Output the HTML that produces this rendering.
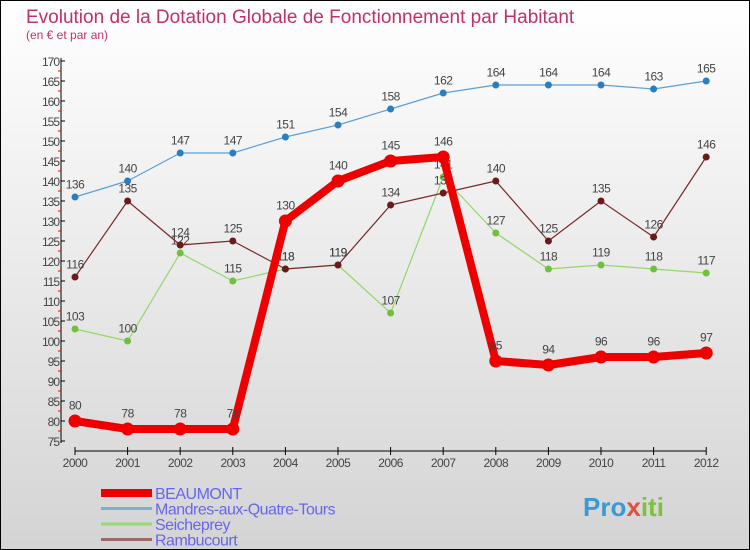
<!DOCTYPE html>
<html><head><meta charset="utf-8"><style>
body{margin:0}
#c{position:relative;width:748px;height:548px;border:1px solid #000;background:linear-gradient(#fff,#d4d4d4);font-family:"Liberation Sans",sans-serif;overflow:hidden}
</style></head><body>
<div id="c">
<svg id="s" width="748" height="548" style="position:absolute;left:0;top:0">
<text x="25" y="22" font-size="19" fill="#c0306a">Evolution de la Dotation Globale de Fonctionnement par Habitant</text>
<text x="25" y="38" font-size="12" fill="#c0306a">(en € et par an)</text>
<g id="axes"></g><g id="series"></g><g id="legend"></g>
<text x="582" y="515" font-size="26" font-weight="bold" fill="#3a9ad9">Pro<tspan fill="#e0503c">x</tspan><tspan fill="#7cc33c">iti</tspan></text>
</svg></div>
<script>
const years=[2000,2001,2002,2003,2004,2005,2006,2007,2008,2009,2010,2011,2012];
const beaumont=[80,78,78,78,130,140,145,146,95,94,96,96,97];
const mandres=[136,140,147,147,151,154,158,162,164,164,164,163,165];
const seicheprey=[103,100,122,115,118,119,107,141,127,118,119,118,117];
const rambucourt=[116,135,124,125,118,119,134,137,140,125,135,126,146];
const yTicks=[75,80,85,90,95,100,105,110,115,120,125,130,135,140,145,150,155,160,165,170];
const NS="http://www.w3.org/2000/svg";
const xs=i=>74+i*52.6, ys=v=>60+(170-v)*4;
function mk(t,a,p){const e=document.createElementNS(NS,t);for(const k in a)e.setAttribute(k,a[k]);(p||document.getElementById('axes')).appendChild(e);return e;}
const ax=document.getElementById('axes');
let l=mk('line',{x1:60,y1:57,x2:60,y2:442,stroke:'#000'});

yTicks.forEach(v=>{mk('line',{x1:60,x2:64,y1:ys(v),y2:ys(v),stroke:'#000'});
if(v<170)mk('line',{x1:57,x2:60,y1:ys(v+2.5),y2:ys(v+2.5),stroke:'red'});
const t=mk('text',{x:58,y:ys(v)+5,'font-size':12,fill:'#444','text-anchor':'end','letter-spacing':'-1'});t.textContent=v;
});
l=mk('line',{x1:74,y1:450,x2:xs(12),y2:450,stroke:'#000'});

years.forEach((y,i)=>{mk('line',{x1:xs(i),x2:xs(i),y1:446,y2:454,stroke:'#000'});
const t=mk('text',{x:xs(i),y:466,'font-size':12,fill:'#444','text-anchor':'middle','letter-spacing':'-0.5'});t.textContent=y;
});
const sg=document.getElementById('series');
function series(name,data,col,dot,w,r){
const g=mk('g',{},sg);
const p=mk('polyline',{points:data.map((v,i)=>xs(i)+','+ys(v)).join(' '),fill:'none',stroke:col,'stroke-width':w,'stroke-linejoin':'round'},g);

data.forEach((v,i)=>{const c=mk('circle',{cx:xs(i),cy:ys(v),r:r,fill:dot},g);

const t=mk('text',{x:xs(i),y:ys(v)-r-5,'font-size':12,fill:'#444','text-anchor':'middle','letter-spacing':'-0.5'},g);t.textContent=v;
});}
series('mandres',mandres,'#5aa0d8','#2a7ec0',1.2,3.5);
series('seicheprey',seicheprey,'#90d868','#70c040',1.2,3.5);
series('rambucourt',rambucourt,'#7a2a2a','#6a1a1a',1.2,3.5);
series('beaumont',beaumont,'#ee0000','#ee0000',8,6.5);
const leg=[['BEAUMONT','#ee0000',8],['Mandres-aux-Quatre-Tours','#7ab0d0',3],['Seicheprey','#98d878',3],['Rambucourt','#9a6a6a',3]];
const lg=document.getElementById('legend');
leg.forEach((e,i)=>{const y=492+i*15.5;
const g=mk('g',{},lg);
mk('line',{x1:100,x2:151,y1:y,y2:y,stroke:e[1],'stroke-width':e[2]},g);
const t=mk('text',{x:154,y:y+6,'font-size':16,fill:'#6666ee','letter-spacing':'-0.5'},g);t.textContent=e[0];});
</script></body></html>
